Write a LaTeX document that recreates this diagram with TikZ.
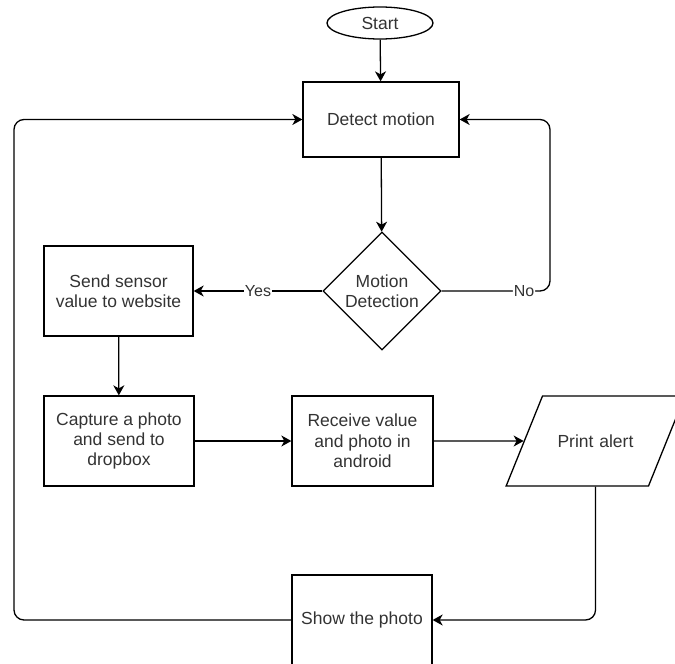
\documentclass[tikz,border=0pt]{standalone}
\usepackage{fontspec}
\setmainfont{Liberation Sans}
\usetikzlibrary{shapes.geometric,arrows.meta}

\begin{document}
\begin{tikzpicture}[x=1pt,y=-1pt,line width=1.3pt,
  txt/.style={font=\fontsize{17.5}{20.3}\selectfont,text=black!80,align=center},
  box/.style={draw,txt,minimum width=#1,minimum height=90pt,inner sep=0pt},
  box/.default=150pt,
  flow/.style={-{Stealth[length=10pt,width=11pt,inset=3pt]}},
  lbl/.style={fill=white,inner sep=1pt,font=\fontsize{16}{18}\selectfont,text=black!80}]

\useasboundingbox (0,0) rectangle (675,664);

% Draw the nodes
\node[draw,ellipse,txt,minimum width=106pt,minimum height=32pt,inner sep=0pt] (start) at (380,23) {Start};
\node[box=156pt,minimum height=75pt] (detect) at (381,119.5) {Detect motion};
\node[draw,diamond,txt,minimum width=118pt,minimum height=118pt,inner sep=0pt] (motion) at (382,291) {Motion\\Detection};
\node[box=149pt] (send) at (118.5,291) {Send sensor\\value to website};
\node[box] (capture) at (119,441) {Capture a photo\\and send to\\dropbox};
\node[box=141pt] (receive) at (362.5,441) {Receive value\\and photo in\\android};
\node[draw,trapezium,txt,trapezium left angle=68,trapezium right angle=112,
  text width=106pt,text height=14.5pt,text depth=1.5pt,inner xsep=0pt,inner ysep=37pt] (alert) at (595.5,441) {Print alert};
\node[box=140pt] (show) at (362,620) {Show the photo};

% Rails for the loops
\coordinate (leftrail) at (14,0);
\coordinate (rightrail) at (550,0);

% Draw the straight arrows
\draw[flow] (start) -- (detect);
\draw[flow] (detect) -- (motion);
\draw[flow] (motion.west) -- node[lbl]{Yes} (send.east);
\draw[flow] (send) -- (capture);
\draw[flow] (capture) -- (receive);
\draw[flow] (receive.east) -- (alert.west);

% Draw the loops back
\draw[flow,rounded corners=10pt] (motion.east) -- node[lbl,pos=0.76]{No} (motion.east -| rightrail) |- (detect.east);
\draw[flow,rounded corners=10pt] (alert.south) |- (show.east);
\draw[flow,rounded corners=10pt] (show.west) -- (show.west -| leftrail) |- (detect.west);

\end{tikzpicture}
\end{document}
